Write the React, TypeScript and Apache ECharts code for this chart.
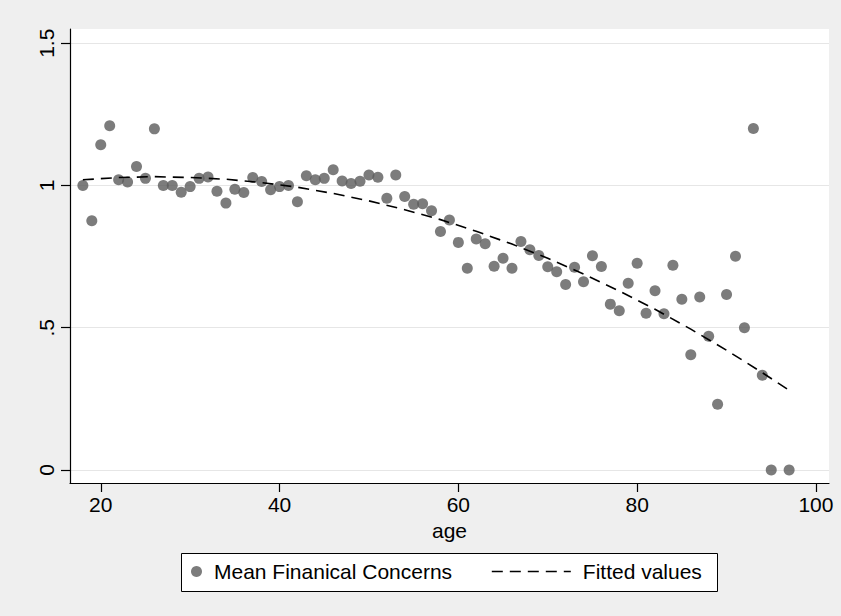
import React, { useEffect, useRef } from "react";
import * as echarts from "echarts";

const FONT = "'Liberation Sans', Arial, Helvetica, sans-serif";

// Scatter: mean financial concerns by age
const ages = [
  18, 19, 20, 21, 22, 23, 24, 25, 26, 27, 28, 29, 30, 31, 32, 33, 34, 35, 36, 37,
  38, 39, 40, 41, 42, 43, 44, 45, 46, 47, 48, 49, 50, 51, 52, 53, 54, 55, 56, 57,
  58, 59, 60, 61, 62, 63, 64, 65, 66, 67, 68, 69, 70, 71, 72, 73, 74, 75, 76, 77,
  78, 79, 80, 81, 82, 83, 84, 85, 86, 87, 88, 89, 90, 91, 92, 93, 94, 95, 97,
];
const means = [
  1.0, 0.876, 1.143, 1.21, 1.02, 1.012, 1.067, 1.025, 1.199, 1.0, 1.0, 0.976, 0.996, 1.025, 1.03, 0.98, 0.938, 0.987, 0.975, 1.028,
  1.014, 0.985, 0.996, 1.0, 0.943, 1.034, 1.02, 1.025, 1.055, 1.016, 1.007, 1.015, 1.037, 1.029, 0.955, 1.037, 0.961, 0.934, 0.936, 0.911,
  0.838, 0.879, 0.8, 0.709, 0.812, 0.795, 0.716, 0.744, 0.709, 0.803, 0.774, 0.754, 0.714, 0.697, 0.652, 0.713, 0.662, 0.753, 0.715, 0.583,
  0.56, 0.656, 0.727, 0.551, 0.63, 0.549, 0.72, 0.6, 0.405, 0.608, 0.47, 0.231, 0.617, 0.751, 0.5, 1.2, 0.333, 0, 0,
];

// Fitted values
const fitAges = [18, 22, 26, 30, 34, 38, 42, 46, 50, 54, 58, 62, 66, 70, 74, 78, 82, 86, 90, 94, 97];
const fitValues = [
  1.02, 1.028, 1.031, 1.028, 1.022, 1.01, 0.994, 0.972, 0.946, 0.915, 0.88, 0.839, 0.794, 0.744, 0.689, 0.629, 0.565, 0.495, 0.421, 0.342, 0.28,
];

const xTicks = [20, 40, 60, 80, 100];
const yTicks = [0, 0.5, 1, 1.5];
const yTickLabels = ["0", ".5", "1", "1.5"];

const seriesNames = ["Mean Finanical Concerns", "Fitted values"];

export default function App() {
  const ref = useRef<HTMLDivElement>(null);
  useEffect(() => {
    if (!ref.current) return;
    const chart = echarts.init(ref.current, null, { renderer: "svg" });
    const axisColor = "#000";
    const dash = [11, 7];
    chart.setOption({
      animation: false,
      backgroundColor: "#efefef",
      textStyle: { fontFamily: FONT },
      grid: {
        left: 70,
        right: 12,
        top: 29,
        bottom: 133,
        show: true,
        backgroundColor: "#ffffff",
        borderWidth: 0,
      },
      xAxis: {
        type: "value",
        min: 16.56,
        max: 101.46,
        name: "age",
        nameLocation: "middle",
        nameGap: 31,
        nameTextStyle: { fontSize: 21, color: "#000", fontFamily: FONT },
        axisLine: { show: true, onZero: false, lineStyle: { color: axisColor, width: 1.2 } },
        axisTick: { show: true, length: 9, customValues: xTicks, lineStyle: { color: axisColor, width: 1.2 } },
        axisLabel: { customValues: xTicks, fontSize: 21, color: "#000", margin: 11, fontFamily: FONT },
        splitLine: { show: false },
      },
      yAxis: {
        type: "value",
        min: -0.0457,
        max: 1.55,
        axisLine: { show: true, onZero: false, lineStyle: { color: axisColor, width: 1.2 } },
        axisTick: { show: true, length: 9, customValues: yTicks, lineStyle: { color: axisColor, width: 1.2 } },
        axisLabel: {
          customValues: yTicks,
          rotate: 90,
          fontSize: 21,
          color: "#000",
          margin: 13,
          fontFamily: FONT,
          formatter: (v: number) => {
            const i = yTicks.findIndex((t) => Math.abs(t - v) < 1e-9);
            return i >= 0 ? yTickLabels[i] : "";
          },
        },
        splitLine: { show: true, lineStyle: { color: "#e6e6e6", width: 1.2 } },
      },
      legend: [
        {
          data: [seriesNames[0]],
          left: 191,
          top: 561,
          padding: 0,
          itemWidth: 25,
          itemHeight: 11,
          selectedMode: false,
          textStyle: { fontSize: 21, color: "#000", fontFamily: FONT },
        },
        {
          data: [seriesNames[1]],
          left: 491,
          top: 561,
          padding: 0,
          itemWidth: 79,
          itemHeight: 11,
          selectedMode: false,
          itemStyle: { opacity: 0 },
          lineStyle: { color: "#000", width: 1.6, type: dash },
          textStyle: { fontSize: 21, color: "#000", fontFamily: FONT, padding: [0, 0, 0, 7] },
        },
      ],
      graphic: [
        {
          type: "rect",
          left: 181,
          top: 553,
          z: 0,
          shape: { width: 536, height: 38 },
          style: { fill: "#ffffff", stroke: "#000", lineWidth: 1 },
        },
      ],
      series: [
        {
          name: seriesNames[0],
          type: "scatter",
          data: ages.map((a, i) => [a, means[i]]),
          symbol: "circle",
          symbolSize: 11,
          itemStyle: { color: "#5b5b5b" },
          z: 3,
        },
        {
          name: seriesNames[1],
          type: "line",
          data: fitAges.map((a, i) => [a, fitValues[i]]),
          symbol: "none",
          showSymbol: false,
          lineStyle: { color: "#000", width: 1.6, type: dash },
          itemStyle: { color: "#000" },
          z: 4,
        },
      ],
    });
    return () => chart.dispose();
  }, []);
  return (
    <div
      ref={ref}
      style={{ position: "fixed", left: 0, top: 0, width: 841, height: 616 }}
    />
  );
}
